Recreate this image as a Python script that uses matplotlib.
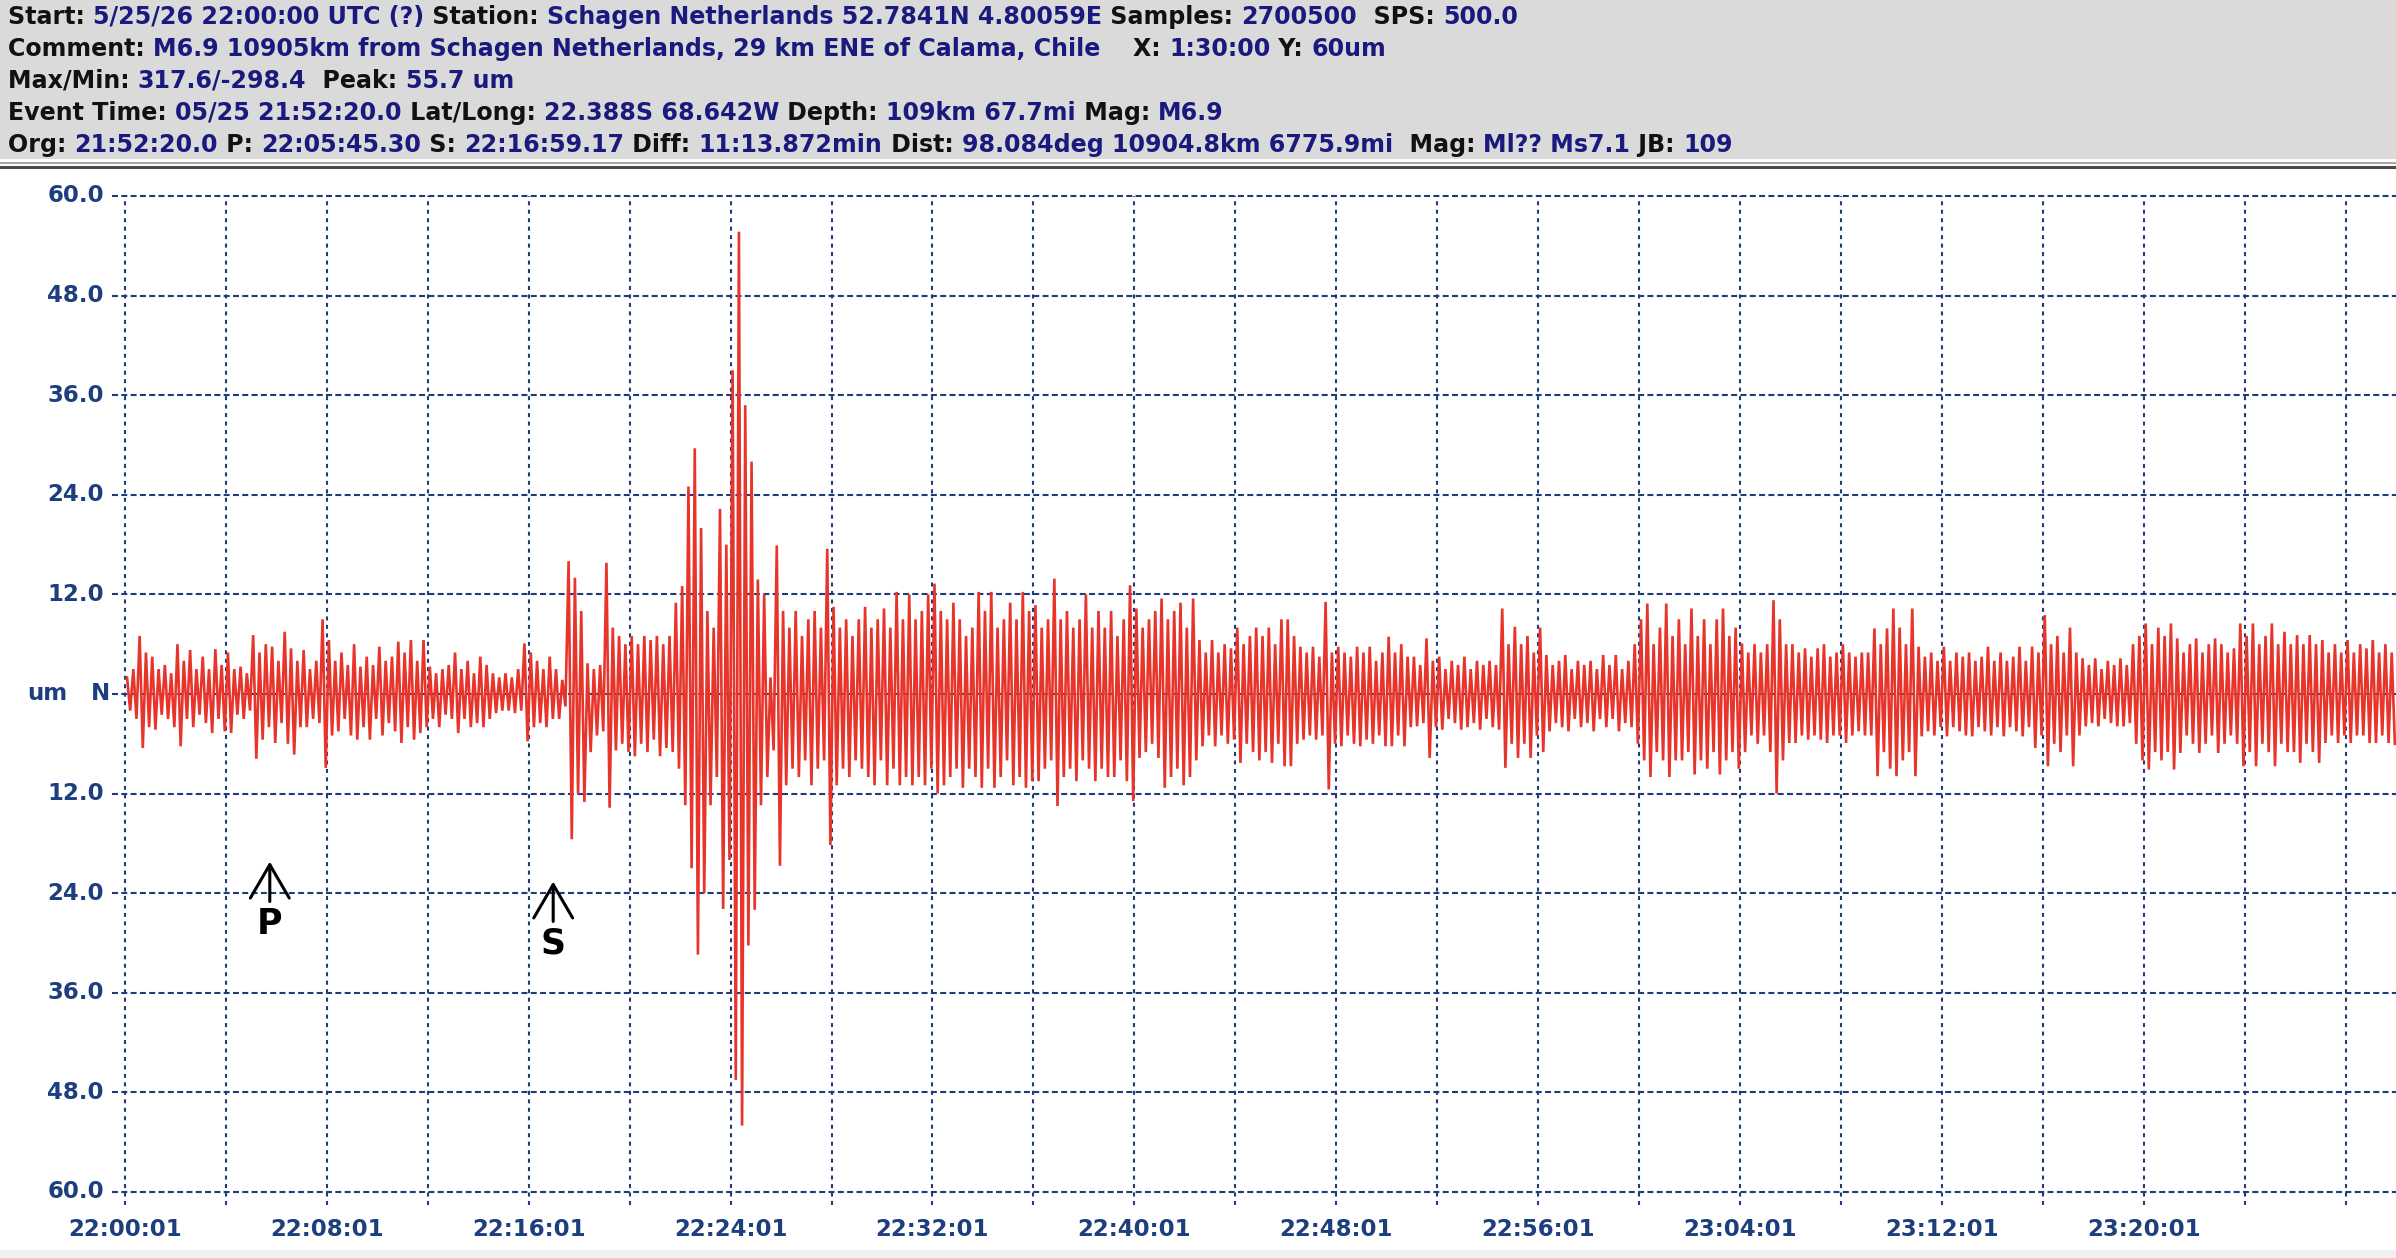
import numpy as np
import matplotlib

matplotlib.use("Agg")
import matplotlib.pyplot as plt

plt.rcParams["lines.scale_dashes"] = False

W, H = 2396, 1258
NAVY = "#1a1a7e"
GRID = "#1f3c7a"
TICK = "#1d3f7e"
TRACE = "#e8352b"

# header lines: (text, is_value)
header_lines = [
    [("Start: ", 0), ("5/25/26 22:00:00 UTC (?)", 1), (" Station: ", 0),
     ("Schagen Netherlands 52.7841N 4.80059E", 1), (" Samples: ", 0), ("2700500", 1),
     ("  SPS: ", 0), ("500.0", 1)],
    [("Comment: ", 0), ("M6.9 10905km from Schagen Netherlands, 29 km ENE of Calama, Chile", 1),
     ("    X: ", 0), ("1:30:00", 1), (" Y: ", 0), ("60um", 1)],
    [("Max/Min: ", 0), ("317.6/-298.4", 1), ("  Peak: ", 0), ("55.7 um", 1)],
    [("Event Time: ", 0), ("05/25 21:52:20.0", 1), (" Lat/Long: ", 0), ("22.388S 68.642W", 1),
     (" Depth: ", 0), ("109km 67.7mi", 1), (" Mag: ", 0), ("M6.9", 1)],
    [("Org: ", 0), ("21:52:20.0", 1), (" P: ", 0), ("22:05:45.30", 1), (" S: ", 0),
     ("22:16:59.17", 1), (" Diff: ", 0), ("11:13.872min", 1), (" Dist: ", 0),
     ("98.084deg 10904.8km 6775.9mi", 1), ("  Mag: ", 0), ("Ml?? Ms7.1", 1),
     (" JB: ", 0), ("109", 1)],
]

# axis: minutes after 22:00:01, 90 minute window
x_ticks = np.arange(0, 81, 8)
x_labels = ["22:00:01", "22:08:01", "22:16:01", "22:24:01", "22:32:01", "22:40:01",
            "22:48:01", "22:56:01", "23:04:01", "23:12:01", "23:20:01"]
x_grid = np.arange(0, 89, 4)
y_ticks = np.arange(-60, 61, 12)
y_labels = ["60.0", "48.0", "36.0", "24.0", "12.0", "", "12.0", "24.0", "36.0", "48.0", "60.0"]

p_time = 5 + 45.30 / 60 - 1 / 60
s_time = 16 + 59.17 / 60 - 1 / 60

# trace peaks in um, 8 alternating peaks per minute
quiet_phase = [
    [2, -2, 3, -3, 7, -6.5, 5, -4],
    [4.5, -4.3, 3, -2.5, 3.5, -3, 2.5, -4],
    [6, -6.3, 4, -3, 5.3, -4, 3, -2.5],
    [4.5, -3.5, 3, -4.7, 5.4, -3, 3.5, -4.5],
    [5, -4.7, 3, -2.5, 3.3, -3, 2.5, -2],
    [7.1, -7.8, 5, -5.5, 6, -4, 5.7, -5.9],
    [4, -3.5, 7.5, -6, 5.5, -7.3, 4, -4],
    [5.3, -4, 3, -3, 4, -3.5, 9, -8.9],
    [6.5, -5, 4, -4.5, 5, -3, 3.5, -5],
    [6, -5.5, 3.3, -4, 4.5, -5.5, 3.5, -3],
    [5.7, -5, 4, -3.5, 4.5, -4.5, 6.3, -5.9],
    [5, -4, 6.5, -5.5, 4, -4.7, 6.5, -4],
    [3.3, -3, 2.5, -4, 3, -2.5, 3.5, -3],
    [5, -4.7, 3, -3, 4, -4, 2.5, -3.5],
    [4.5, -4, 3.5, -3, 2.5, -2.3, 2, -2],
    [2.5, -2, 2, -2.3, 3, -2, 6.1, -5.7],
    [5, -4, 4, -3.5, 3, -4, 4.5, -3],
]
s_phase = [
    [3, -3, 1.7, -1.5, 16, -17.5, 14, -12],
    [10, -13, 3.7, -7, 3, -5, 3.5, -4.5],
    [15.8, -13.7, 8, -6.8, 7, -6, 6, -7],
    [7, -7.5, 6, -6, 7, -7, 6.5, -5.5],
    [7, -7.5, 6, -6.5, 7, -7, 11, -9],
]
main_phase = [
    [13, -13.4, 25, -21, 29.6, -31.4, 20, -24],
    [10, -13.4, 8, -10, 22.3, -25.9, 18, -20],
    [39, -46.5, 55.7, -52, 34.8, -30.3, 28, -26],
    [13.8, -13.4, 12, -10, 2, -6.8, 17.9, -20.7],
    [10, -11, 8, -9, 10, -10, 7, -8],
    [9, -11, 10, -9, 8, -8, 17.5, -18.2],
]
coda_phase = [
    [10.5, -11, 8, -9, 9, -10, 7, -8],
    [9, -9, 10.5, -10, 8, -11, 9, -8],
    [10.3, -11, 8, -9, 12.3, -11, 9, -10],
    [12, -11, 9, -10, 10, -11, 12, -9],
    [13.3, -12, 10, -11, 9, -10, 11, -9],
    [9, -11.3, 7, -9, 8, -10, 12.3, -11.3],
    [10, -9, 12.3, -11.3, 8, -10, 9, -8],
    [11, -11, 9, -10, 12.3, -11.3, 10, -10.5],
    [10.7, -10.5, 8, -9, 9, -8, 13.9, -13.5],
    [9, -10, 10, -9, 8, -10.5, 9, -8],
    [12, -9, 8, -10.5, 10, -9, 8, -10],
    [10, -10, 7, -8, 9, -10.5, 13.1, -12.9],
    [10.3, -7.7, 8, -7, 9, -6, 10, -7.7],
    [11.5, -11.3, 9, -10, 10, -9, 11, -11],
    [8, -10, 11.5, -8, 6.5, -6.3, 5, -5],
    [6.5, -6.3, 5, -5, 6, -6, 5.5, -5.5],
    [8, -8.3, 6, -6, 7, -7, 8, -8],
    [7, -7, 8, -8.3, 6, -6, 9, -8.7],
    [9, -8.7, 7, -6, 5.7, -5.5, 5, -5],
    [5.7, -5.5, 4.5, -5, 11.1, -11.5, 5, -6],
    [5.7, -6.3, 5, -5, 4.5, -6, 5.7, -6.3],
    [5, -5.5, 5.7, -6, 4, -5, 5, -6.3],
    [6.9, -6.3, 5, -5, 6, -6.3, 4.5, -4],
    [4.5, -3.9, 3.5, -3.5, 6.7, -7.7, 4, -4],
    [4.5, -4.3, 3, -3, 4, -3.5, 3.5, -4.3],
    [4.5, -4, 3, -3.5, 4, -4.3, 3.5, -3],
    [4, -4, 3.5, -4.3, 10.3, -8.9, 6, -6],
    [8.1, -7.7, 6, -6, 7, -7.7, 5, -5],
    [8, -7, 4.7, -4.5, 3.5, -3.5, 4, -4],
    [4.7, -4.5, 3, -3, 4, -4, 3.5, -3.5],
    [4, -4.5, 3, -3, 4.7, -4, 3.5, -3],
    [4.7, -4.5, 3, -3.5, 4, -4, 6, -6],
    [9, -8, 10.9, -10, 6, -7, 8, -8],
    [10.9, -10, 7, -8, 9, -8, 6, -7],
    [10.3, -9.7, 7, -8, 9, -9, 6, -7],
    [9, -9.7, 10.3, -8, 7, -7, 8, -9],
    [6.1, -7, 5, -5, 6, -6, 5, -5],
    [6, -7, 11.3, -12, 9, -8, 6, -5.9],
    [6, -5.9, 5, -5, 5.5, -5.5, 4.5, -5],
    [5.5, -5.5, 6, -5.9, 4.5, -5, 5, -5],
    [6, -5.9, 5, -5, 4.5, -4.5, 5, -5],
    [5, -5, 7.9, -9.9, 6, -7, 7.9, -9],
    [10.3, -9.9, 8, -8, 6, -7, 10.3, -9.9],
    [5.7, -5.1, 4.5, -4.5, 5, -5, 4, -4],
    [5.7, -5.1, 4, -4, 5, -4.5, 4.5, -5],
    [5, -5.1, 4, -4, 4.5, -4.5, 5.7, -5],
    [4, -4, 5, -5.1, 4, -4, 4.5, -4.5],
    [5.7, -5.1, 4, -4, 5.7, -6.5, 5, -5],
    [9.5, -8.7, 6, -6, 7, -7, 5, -5],
    [8, -8.7, 5, -5, 4.3, -3.9, 3.5, -3.5],
    [4.3, -3.9, 3, -3, 4, -3.5, 3.5, -3.9],
    [4.3, -3.9, 3.5, -3.5, 6, -6, 7, -8],
    [8.5, -9.1, 6, -7, 8, -8, 7, -7],
    [8.5, -9.1, 6.7, -7.1, 5, -5, 6, -6],
    [6.7, -7.1, 5, -6, 6, -5, 6.7, -7.1],
    [6, -6, 5, -5, 5.5, -6, 8.5, -8.7],
    [7, -7, 8.5, -8.7, 6, -6, 7, -7],
    [8.5, -8.7, 6, -6, 7.5, -7, 6, -7],
    [7.1, -8.3, 6, -6, 7.1, -7, 6, -8.3],
    [6.5, -5.9, 5, -5, 6, -5.9, 5, -5],
    [6.5, -5.9, 5, -5, 6, -5, 5.5, -5.9],
    [6.5, -5.9, 5, -5, 6, -5.9, 5, -6],
]

trace = np.concatenate([np.ravel(quiet_phase), np.ravel(s_phase),
                        np.ravel(main_phase), np.ravel(coda_phase)])
t = 0.08 + np.arange(len(trace)) * 0.125

fig = plt.figure(figsize=(W / 100, H / 100), dpi=100)
fig.patch.set_facecolor("white")
renderer = fig.canvas.get_renderer()

# header panel
fig.patches.append(plt.Rectangle((0, 1 - 159 / H), 1, 159 / H, transform=fig.transFigure,
                                 facecolor="#dadada", edgecolor="none", zorder=0))
fig.add_artist(plt.Line2D([0, 1], [1 - 163 / H] * 2, color="#a8a8a8", lw=1.5))
fig.add_artist(plt.Line2D([0, 1], [1 - 166.5 / H] * 2, color="#4a4a4a", lw=2.2))
fig.patches.append(plt.Rectangle((0, 0), 1, 8 / H, transform=fig.transFigure,
                                 facecolor="#f0f0f0", edgecolor="none", zorder=0))

# fit header font to the width of the first line
probe = fig.text(0, 0, "".join(p[0] for p in header_lines[0]), fontsize=17, fontweight="bold")
size = 17 * 1515 / probe.get_window_extent(renderer).width
probe.remove()

line_y = [17, 49, 81, 113, 145]
for y_px, pieces in zip(line_y, header_lines):
    x_px = 8
    for txt, is_val in pieces:
        tx = fig.text(x_px / W, 1 - y_px / H, txt, fontsize=size, va="center", ha="left",
                      fontweight="bold", color=NAVY if is_val else "#111111")
        x_px += tx.get_window_extent(renderer).width

ax = fig.add_axes([125 / W, 1 - 1192 / H, 1 - 125 / W, (1192 - 196) / H])
ax.set_xlim(0, 90)
ax.set_ylim(-60, 60)
ax.axis("off")

# grid, extended a little outside the frame like the reference
ext_x = -13 / (W - 125)
ext_y = -13 / (1192 - 196)
ytrans = ax.get_yaxis_transform()
xtrans = ax.get_xaxis_transform()
for yv in y_ticks:
    ax.plot([ext_x, 1], [yv, yv], transform=ytrans, color=GRID, lw=1.5,
            dashes=(4.3, 2.4), clip_on=False, zorder=1)
for xv in x_grid:
    ax.plot([xv, xv], [ext_y, 1], transform=xtrans, color=GRID, lw=1.5,
            dashes=(2.9, 3.2), clip_on=False, zorder=1)

ax.plot(t, trace, color=TRACE, lw=1.9, zorder=3, solid_joinstyle="miter")

for yv, lab in zip(y_ticks, y_labels):
    ax.text(-21 / (W - 125), yv, lab, transform=ytrans, ha="right", va="center",
            fontsize=16.5, fontweight="bold", color=TICK)
ax.text(-58 / (W - 125), 0, "um", transform=ytrans, ha="right", va="center",
        fontsize=16.5, fontweight="bold", color=TICK)
ax.text(-15 / (W - 125), 0, "N", transform=ytrans, ha="right", va="center",
        fontsize=16.5, fontweight="bold", color=TICK)

for xv, lab in zip(x_ticks, x_labels):
    ax.text(xv, -38 / (1192 - 196), lab, transform=xtrans, ha="center", va="center",
            fontsize=16.5, fontweight="bold", color=TICK)

# phase picks
for tm, tip, base, ly, lab in [(p_time, -20.2, -25.0, -27.7, "P"),
                               (s_time, -22.6, -27.4, -30.1, "S")]:
    ax.annotate("", xy=(tm, tip), xytext=(tm, base),
                arrowprops=dict(arrowstyle="->,head_length=1.2,head_width=0.7",
                                color="black", lw=2.2, mutation_scale=20,
                                shrinkA=0, shrinkB=0), zorder=4)
    ax.text(tm, ly, lab, ha="center", va="center", fontsize=25, fontweight="bold",
            color="black", zorder=4)

fig.savefig("out.png", dpi=100)
plt.close(fig)
